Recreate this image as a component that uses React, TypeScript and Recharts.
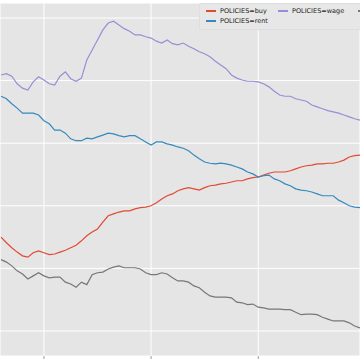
import { LineChart, Line, XAxis, YAxis, CartesianGrid, Legend } from 'recharts';

// time steps (half-unit spacing)
const steps: number[] = Array.from({ length: 68 }, (_, i) => 6 + i * 0.5);

const buyValues = [
  35.0, 34.1, 33.3, 32.6, 32.0, 31.8, 32.5, 32.8, 32.5, 32.2,
  32.3, 32.6, 32.9, 33.3, 33.7, 34.4, 35.2, 35.8, 36.3, 37.4,
  38.4, 38.7, 39.0, 39.2, 39.2, 39.5, 39.7, 39.8, 40.0, 40.5,
  41.1, 41.6, 41.9, 42.4, 42.7, 42.9, 42.7, 42.5, 42.9, 43.2,
  43.3, 43.5, 43.6, 43.8, 44.0, 44.0, 44.3, 44.5, 44.6, 44.9,
  45.2, 45.4, 45.4, 45.4, 45.6, 45.9, 46.2, 46.4, 46.5, 46.7,
  46.7, 46.8, 46.8, 47.0, 47.3, 47.8, 48.0, 48.1,
];

const rentValues = [
  57.5, 57.1, 56.3, 55.6, 54.8, 54.8, 54.8, 54.5, 53.6, 53.1,
  52.1, 52.1, 51.6, 50.7, 50.4, 50.4, 50.8, 50.7, 51.0, 51.3,
  51.6, 51.5, 51.2, 51.0, 51.2, 51.2, 50.7, 50.2, 49.7, 50.2,
  50.2, 49.9, 49.7, 49.4, 49.2, 48.8, 48.1, 47.5, 47.0, 46.8,
  46.7, 46.8, 46.7, 46.5, 46.2, 45.9, 45.4, 45.1, 44.6, 44.8,
  44.9, 44.3, 44.0, 43.5, 43.2, 42.7, 42.5, 42.4, 42.2, 41.9,
  41.6, 41.6, 41.6, 40.9, 40.5, 40.0, 39.8, 39.7,
];

const wageValues = [
  60.9, 61.1, 60.7, 59.5, 58.8, 58.5, 59.8, 60.6, 60.1, 59.5,
  59.3, 60.7, 61.4, 60.3, 59.9, 60.4, 63.3, 64.9, 66.5, 68.1,
  69.2, 69.5, 68.9, 68.3, 67.9, 67.3, 67.3, 67.0, 66.8, 66.3,
  66.0, 66.5, 65.9, 65.7, 66.0, 65.5, 65.1, 64.6, 64.3, 63.8,
  63.1, 62.5, 61.9, 60.9, 60.4, 60.1, 59.9, 59.9, 59.8, 59.5,
  59.0, 58.3, 57.7, 57.5, 57.5, 57.1, 56.9, 56.7, 56.1, 55.8,
  55.5, 55.2, 55.0, 54.8, 54.5, 54.2, 53.9, 53.7,
];

const otherValues = [
  31.4, 31.0, 30.4, 29.6, 29.1, 28.3, 28.8, 29.3, 28.8, 28.5,
  28.6, 28.6, 27.8, 27.5, 27.0, 27.8, 27.4, 29.0, 29.3, 29.4,
  29.9, 30.2, 30.4, 30.1, 30.1, 30.1, 29.9, 29.3, 29.0, 29.0,
  29.3, 29.1, 28.5, 28.0, 28.0, 27.8, 27.2, 26.9, 26.2, 25.6,
  25.4, 25.4, 25.4, 25.3, 24.6, 24.5, 24.2, 24.3, 23.8, 23.7,
  23.5, 23.5, 23.5, 23.4, 23.4, 23.0, 22.6, 22.7, 22.7, 22.6,
  22.2, 21.9, 21.6, 21.6, 21.6, 21.3, 20.8, 20.5,
];

const xTicks = [10, 20, 30];
const yTicks = [20, 30, 40, 50, 60, 70];

const series = [
  { key: 'buy', name: 'POLICIES=buy', color: '#E24A33' },
  { key: 'rent', name: 'POLICIES=rent', color: '#348ABD' },
  { key: 'wage', name: 'POLICIES=wage', color: '#988ED5' },
  { key: 'other', name: '', color: '#777777' },
];

const data = steps.map((t, i) => ({
  t,
  buy: buyValues[i],
  rent: rentValues[i],
  wage: wageValues[i],
  other: otherValues[i],
}));

// legend slots, matplotlib column-major order
const legendSlots: Record<string, { left: number; top: number }> = {
  buy: { left: 6, top: 7 },
  rent: { left: 6, top: 17 },
  wage: { left: 78, top: 7 },
  other: { left: 158, top: 7 },
};

function LegendBox() {
  return (
    <div
      style={{
        position: 'relative',
        width: 180,
        height: 25,
        background: '#E7E7E7',
        border: '1px solid #DEDEDE',
        borderRadius: 2,
        fontFamily: 'DejaVu Sans, sans-serif',
        fontSize: 6.5,
        color: '#222',
      }}
    >
      {series.map((s) => {
        const slot = legendSlots[s.key];
        return (
          <div
            key={s.key}
            style={{ position: 'absolute', left: slot.left, top: slot.top - 4, height: 8, display: 'flex', alignItems: 'center', whiteSpace: 'nowrap' }}
          >
            <span style={{ display: 'inline-block', width: 10, height: 1.3, background: s.color, marginRight: 4 }} />
            {s.name && <span>{s.name}</span>}
          </div>
        );
      })}
    </div>
  );
}

const blank = () => '';

export default function App() {
  return (
    <div style={{ position: 'fixed', top: 0, left: 0, width: 360, height: 360, overflow: 'hidden', background: '#fff' }}>
      <LineChart width={360} height={360} data={data} margin={{ top: 3, right: 0, bottom: 0, left: 0 }}>
        <CartesianGrid fill="#E5E5E5" stroke="#FFFFFF" strokeWidth={1} />
        <XAxis
          dataKey="t"
          type="number"
          domain={[5.9, 39.5]}
          ticks={xTicks}
          allowDataOverflow
          height={4}
          tickFormatter={blank}
          axisLine={false}
          tickLine={{ stroke: '#999' }}
          tickSize={3}
        />
        <YAxis
          type="number"
          domain={[16, 72.4]}
          ticks={yTicks}
          allowDataOverflow
          width={0}
          tickFormatter={blank}
          axisLine={false}
          tickLine={false}
        />
        <Legend
          layout="horizontal"
          verticalAlign="middle"
          align="center"
          content={() => <LegendBox />}
          wrapperStyle={{ position: 'absolute', top: 3, left: 199, width: 180 }}
        />
        {series.map((s) => (
          <Line
            key={s.key}
            type="linear"
            dataKey={s.key}
            name={s.name || 'other'}
            stroke={s.color}
            strokeWidth={1.2}
            dot={false}
            isAnimationActive={false}
          />
        ))}
      </LineChart>
    </div>
  );
}
